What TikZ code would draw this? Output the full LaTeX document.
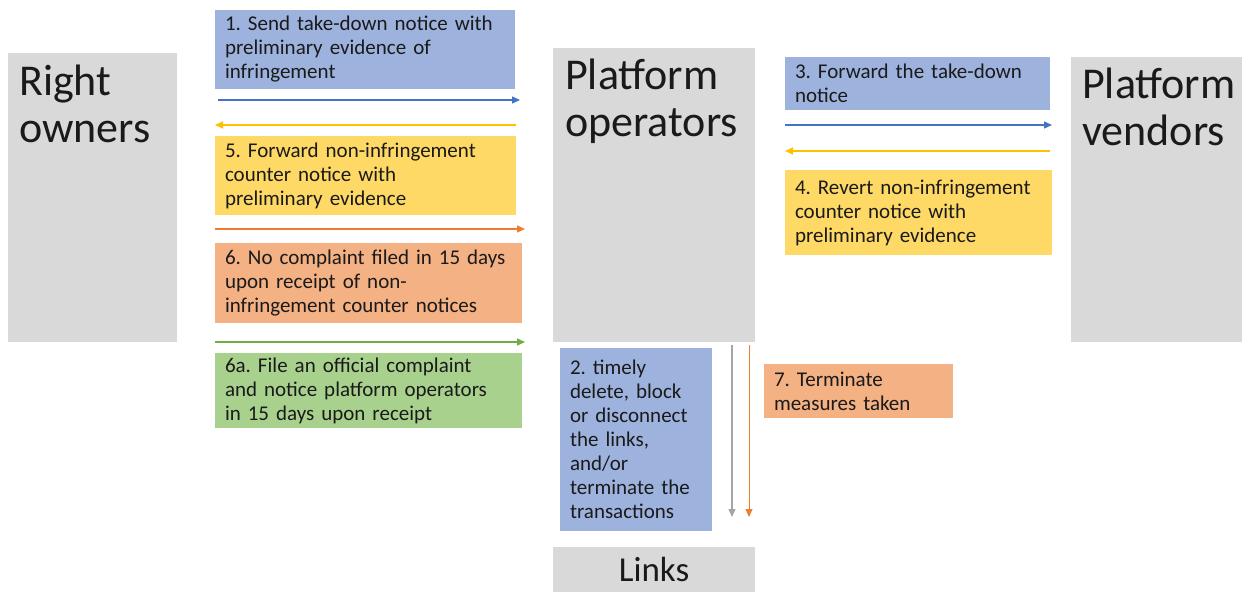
\documentclass[tikz,border=0pt]{standalone}
\usepackage{fontspec}
\setmainfont{Carlito}
\frenchspacing
\usetikzlibrary{arrows.meta}
\definecolor{grayfill}{HTML}{D9D9D9}
\definecolor{bluefill}{HTML}{9DB3DE}
\definecolor{yellowfill}{HTML}{FFD966}
\definecolor{orangefill}{HTML}{F4B183}
\definecolor{greenfill}{HTML}{A9D18E}
\definecolor{ablue}{HTML}{4472C4}
\definecolor{ayellow}{HTML}{FFC000}
\definecolor{aorange}{HTML}{ED7D31}
\definecolor{agreen}{HTML}{70AD47}
\definecolor{agray}{HTML}{A5A5A5}
\definecolor{ink}{HTML}{1A1A1A}
\tikzset{
  actor/.style={fill=grayfill, draw=none, inner sep=0pt, outer sep=0pt, anchor=north west},
  actorname/.style={anchor=north west, inner sep=0pt, align=left, text=ink,
    font=\fontsize{44}{47}\selectfont},
  stepbox/.style={draw=none, inner xsep=10pt, inner ysep=3pt, outer sep=0pt, anchor=north west,
    align=left, text=ink, font=\fontsize{21}{24}\selectfont},
  arr/.style={line width=1.4pt, -{Triangle[length=8pt,width=7pt]}},
}
\begin{document}
\begin{tikzpicture}[x=1pt,y=-1pt]
\useasboundingbox (0,0) rectangle (1242,592);

% parties
\node[actor, minimum width=169, minimum height=289] (ro) at (8,53) {};
\node[actorname] (rot) at (19,65) {Right\\owners};
\node[actor, minimum width=202, minimum height=294] (po) at (553,48) {};
\node[actorname] (pot) at (565,59) {Platform\\operators};
\node[actor, minimum width=171, minimum height=285] (pv) at (1071,57) {};
\node[actorname] (pvt) at (1082,68) {Platform\\vendors};
\node[actor, minimum width=202, minimum height=45, anchor=center, text=ink,
      font=\fontsize{35}{40}\selectfont] (lk) at (654,569.5) {Links};

% steps between right owners and platform operators
\node[stepbox, fill=bluefill, text width=280, minimum height=79] (b1) at (215,10)
  {1. Send take-down notice with\\preliminary evidence of\\infringement};
\node[stepbox, fill=yellowfill, text width=281, minimum height=79] (b5) at (215,136)
  {5. Forward non-infringement\\counter notice with\\preliminary evidence};
\node[stepbox, fill=orangefill, text width=287, minimum height=80] (b6) at (215,243)
  {6. No complaint filed in 15 days\\upon receipt of non-\\infringement counter notices};
\node[stepbox, fill=greenfill, text width=287, minimum height=75] (b6a) at (215,353)
  {6a. File an official complaint\\and notice platform operators\\in 15 days upon receipt};

% steps between platform operators and vendors
\node[stepbox, fill=bluefill, text width=245, minimum height=53] (b3) at (785,57)
  {3. Forward the take-down\\notice};
\node[stepbox, fill=yellowfill, text width=247, minimum height=85] (b4) at (785,170)
  {4. Revert non-infringement\\counter notice with\\preliminary evidence};

% measures on links
\node[stepbox, fill=bluefill, text width=132, minimum height=183] (b2) at (560,348)
  {2. timely\\delete, block\\or disconnect\\the links,\\and/or\\terminate the\\transactions};
\node[stepbox, fill=orangefill, text width=169, minimum height=54] (b7) at (764,364)
  {7. Terminate\\measures taken};

% arrows
\draw[arr, ablue] ([shift={(3,11)}]b1.south west) -- ([shift={(5,11)}]b1.south east);
\draw[arr, ayellow] ([shift={(0,-11)}]b5.north east) -- ([shift={(0,-11)}]b5.north west);
\draw[arr, aorange] ([shift={(0,-14)}]b6.north west) -- ([shift={(3,-14)}]b6.north east);
\draw[arr, agreen] ([shift={(0,-11)}]b6a.north west) -- ([shift={(3,-11)}]b6a.north east);
\draw[arr, ablue] ([shift={(0,15)}]b3.south west) -- ([shift={(2,15)}]b3.south east);
\draw[arr, ayellow] ([shift={(-2,-19)}]b4.north east) -- ([shift={(0,-19)}]b4.north west);
\draw[arr, agray] ([shift={(78,3)}]po.south) -- ([shift={(78,-30)}]lk.north);
\draw[arr, aorange, line width=1pt] ([shift={(95,3)}]po.south) -- ([shift={(95,-30)}]lk.north);
\end{tikzpicture}
\end{document}
